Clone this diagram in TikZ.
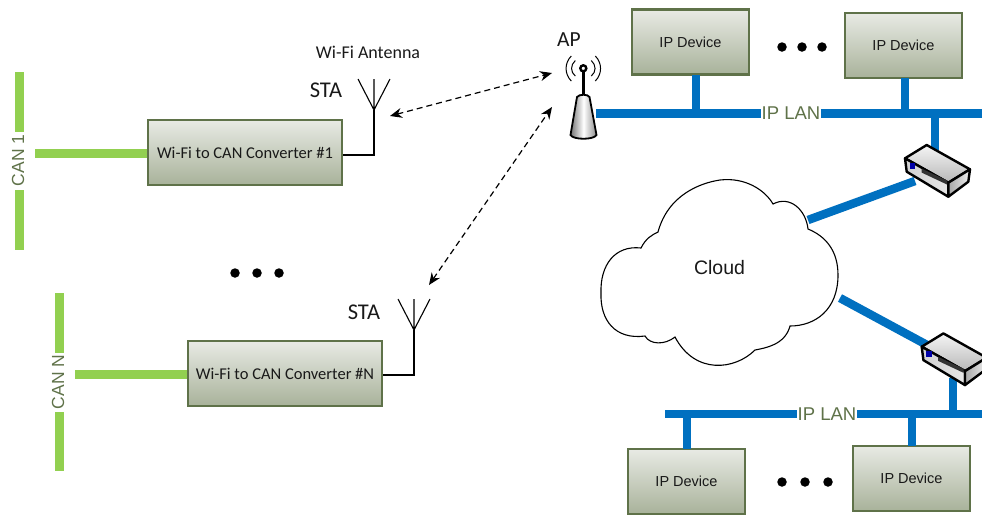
\documentclass[tikz,border=0pt]{standalone}
\usepackage{fontspec}
\setmainfont{Liberation Sans}
\newfontfamily\calfont{Carlito}
\definecolor{lanblue}{HTML}{0070C0}
\definecolor{cangreen}{HTML}{92D050}
\definecolor{olive}{HTML}{5F7249}
\definecolor{boxtop}{HTML}{E8EAE4}
\definecolor{boxbot}{HTML}{A8B29A}
\tikzset{
  devbox/.style={draw=olive,line width=2.4pt,top color=boxtop,bottom color=boxbot,minimum width=#1,inner sep=0pt,text=black!90},
  conv/.style={devbox=194pt,minimum height=65pt,font=\calfont\fontsize{16.5}{18}\selectfont},
  ipdev/.style={devbox=117pt,minimum height=65pt,font=\fontsize{14.5}{16}\selectfont},
  lan/.style={draw=lanblue,line width=8.5pt},
  can/.style={draw=cangreen,line width=9pt},
  thin link/.style={draw=black,line width=1.1pt},
  wireless/.style={draw=black,line width=1.2pt,dash pattern=on 6pt off 4pt,{Stealth[length=12pt,width=10pt]}-{Stealth[length=12pt,width=10pt]}},
  lanlabel/.style={text=olive,fill=white,inner sep=1pt,font=\fontsize{18.5}{20}\selectfont},
  canlabel/.style={text=olive,rotate=90,inner sep=0pt,font=\fontsize{17.5}{20}\selectfont},
  plain label/.style={text=black!90,inner sep=0pt},
  dotmark/.style={fill=black,circle,inner sep=0pt,minimum size=9.5pt},
  outline/.style={draw=black,line width=2.4pt,line join=round},
  antenna/.pic={
    \draw[line width=1.1pt] (-16,-31) -- (0,0) -- (16,-31) (0,-31) -- (0,0);
  },
  router/.pic={
    \draw[outline,top color=black!4,bottom color=black!28] (905,158.3) -- (926.7,145) -- (970,169.3) -- (948.3,182.7) -- cycle;
    \draw[outline,left color=black!18,right color=black!10] (905,158.3) -- (948.3,182.7) -- (948.3,196.7) -- (906.7,171.7) -- cycle;
    \draw[outline,left color=black!35,right color=black!6] (948.3,182.7) -- (970,169.3) -- (968.3,181.7) -- (948.3,196.7) -- cycle;
    \fill[blue!65!black] (909.5,163) rectangle (915,168.5);
    \fill[black!80] (921.5,168.5) -- (947,180.5) -- (947,184.5) -- (921.5,172.5) -- cycle;
  },
}
\usetikzlibrary{arrows.meta}
\begin{document}
\begin{tikzpicture}[x=1pt,y=-1pt]
\useasboundingbox (0,0) rectangle (982,515);
% named junctions
\coordinate (apport) at (596,113.5);
\coordinate (lan1e) at (982,113.5);
\coordinate (lan1c) at (935,109.5);
\coordinate (r1top) at (935,150);
\coordinate (r1low) at (915,181);
\coordinate (cl1) at (808,220);
\coordinate (cl2) at (840,298);
\coordinate (r2up) at (927,345);
\coordinate (r2low) at (953,378);
\coordinate (lan2s) at (665,414);
\coordinate (lan2e) at (982,414);
\coordinate (lan2c) at (953,418);
% devices
\node[ipdev] (d1) at (690.5,42) {IP Device};
\node[ipdev] (d2) at (903.5,45.5) {IP Device};
\node[ipdev] (d3) at (686.5,481.5) {IP Device};
\node[ipdev] (d4) at (911.5,478.5) {IP Device};
\coordinate (s1) at (696,75);
\coordinate (s2) at (905,78);
\coordinate (s3) at (687,449);
\coordinate (s4) at (912,446);
% LAN
\draw[lan] (apport) -- (lan1e);
\draw[lan] (s1) -- (s1 |- apport);
\draw[lan] (s2) -- (s2 |- apport);
\draw[lan] (lan1c) -- (r1top);
\draw[lan] (cl1) -- (r1low);
\draw[lan] (cl2) -- (r2up);
\draw[lan] (r2low) -- (lan2c);
\draw[lan] (lan2s) -- (lan2e);
\draw[lan] (s3) -- (s3 |- lan2s);
\draw[lan] (s4) -- (s4 |- lan2s);
\node[lanlabel] (ipl1) at (791,113.5) {IP LAN};
\node[lanlabel] (ipl2) at (827,414) {IP LAN};
% routers
\pic (rt1) at (0,0) {router};
\pic[shift={(16.7,188.4)}] (rt2) at (0,0) {router};
% cloud
\draw[line width=1.1pt,fill=white] (641,248)
  .. controls (646,238) and (652,235) .. (658,232)
  .. controls (668,195) and (700,183) .. (720,180)
  .. controls (745,177) and (765,190) .. (773,204)
  .. controls (790,195) and (806,210) .. (808,229)
  .. controls (825,236) and (838,250) .. (838,275)
  .. controls (838,310) and (815,326) .. (790,326)
  .. controls (785,345) and (765,348) .. (755,350)
  .. controls (735,370) and (695,375) .. (675,337)
  .. controls (665,345) and (650,345) .. (645,336)
  .. controls (615,340) and (600,320) .. (601,293)
  .. controls (600,265) and (615,245) .. (641,248) -- cycle;
\node[plain label,font=\fontsize{19.5}{22}\selectfont] (cloudtxt) at (719.5,268) {Cloud};
% CAN
\node[canlabel] (can1) at (18,160.5) {CAN 1};
\coordinate (c1a) at (19,72);
\coordinate (c1b) at (19,132);
\coordinate (c1c) at (19,190);
\coordinate (c1d) at (19,250);
\coordinate (c1e) at (35,153);
\draw[can] (c1a) -- (c1b);
\draw[can] (c1c) -- (c1d);
\node[conv] (conv1) at (245,152.5) {Wi-Fi to CAN Converter \#1};
\draw[can] (c1e) -- (conv1.west |- c1e);
\node[canlabel] (canN) at (58,382) {CAN N};
\coordinate (cna) at (59,293);
\coordinate (cnb) at (59,353);
\coordinate (cnc) at (59,412);
\coordinate (cnd) at (59,471);
\coordinate (cne) at (75,374);
\draw[can] (cna) -- (cnb);
\draw[can] (cnc) -- (cnd);
\node[conv] (convN) at (285,373.5) {Wi-Fi to CAN Converter \#N};
\draw[can] (cne) -- (convN.west |- cne);
% antennas
\coordinate (ant1) at (374,110);
\coordinate (antN) at (414,330);
\pic at (ant1) {antenna};
\pic at (antN) {antenna};
\draw[thin link] (conv1.east |- 0,155) -- (ant1 |- 0,155) -- (ant1);
\draw[thin link] (convN.east |- 0,375) -- (antN |- 0,375) -- (antN);
% AP
\draw[line width=2.4pt] (583.3,70) -- (583.3,97);
\draw[line width=2.4pt] (583.3,68.3) circle[radius=3pt];
\foreach \s in {-1,1}{
  \draw[line width=1pt] ({583.3+\s*8},60.5) .. controls ({583.3+\s*13},65) and ({583.3+\s*13},72) .. ({583.3+\s*8},76);
  \draw[line width=1pt] ({583.3+\s*12},56) .. controls ({583.3+\s*19},63) and ({583.3+\s*19},74) .. ({583.3+\s*12},81);
}
\draw[line width=1.8pt,left color=black!55,right color=black!45,middle color=white] (577,97) -- (570.5,135) .. controls (573,140) and (594,140) .. (596.5,135) -- (589.5,97) .. controls (588,94) and (579,94) .. (577,97) -- cycle;
\coordinate (apnear) at (552,73);
\coordinate (apfar) at (552,107);
\coordinate (sta1pt) at (390,116);
\coordinate (staNpt) at (429,285);
\draw[wireless] (sta1pt) -- (apnear);
\draw[wireless] (staNpt) -- (apfar);
% labels
\node[plain label,font=\calfont\fontsize{18}{20}\selectfont] (wifi) at (368,52) {Wi-Fi Antenna};
\node[plain label,font=\calfont\fontsize{22.5}{24}\selectfont] (sta1) at (326,90) {STA};
\node[plain label,font=\calfont\fontsize{22.5}{24}\selectfont] (staN) at (364,312) {STA};
\node[plain label,font=\calfont\fontsize{21.5}{24}\selectfont] (ap) at (569,40) {AP};
% dots
\foreach \px/\py/\n in {235/273/a,257/273/b,279/273/c,782/47/d,802/47/e,822/47/f,782/482/g,805/482/h,828/482/i}
  \node[dotmark] (dot\n) at (\px,\py) {};
\end{tikzpicture}
\end{document}
